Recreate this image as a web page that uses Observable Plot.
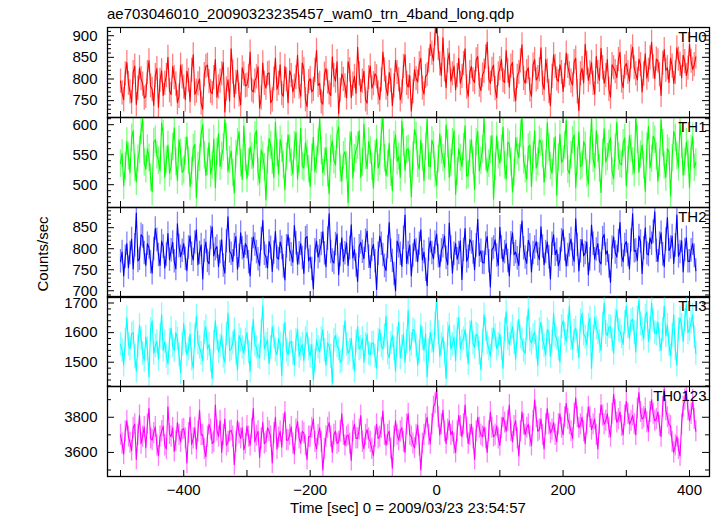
<!DOCTYPE html>
<html><head><meta charset="utf-8">
<script src="https://cdn.jsdelivr.net/npm/d3@7"></script>
<script src="https://cdn.jsdelivr.net/npm/@observablehq/plot@0.6"></script>
<style>
html,body{margin:0;padding:0;background:#fff;}
#wrap{position:relative;width:717px;height:516px;overflow:hidden;font-family:"Liberation Sans",Arial,Helvetica,sans-serif;color:#000;background:#fff;}
#wrap svg{position:absolute;left:0;}
.t{position:absolute;font-size:15px;line-height:15px;white-space:nowrap;}
</style></head><body>
<div id="wrap">
<div class="t" style="left:107px;top:6px;">ae703046010_20090323235457_wam0_trn_4band_long.qdp</div>
<div class="t" style="left:42px;top:254px;transform:translate(-50%,-50%) rotate(-90deg);">Counts/sec</div>
<div class="t" style="left:408px;top:500px;transform:translateX(-50%);">Time [sec] 0 = 2009/03/23 23:54:57</div>
</div>
<script>
// bins: "a" arrays start at tStart, "b" arrays start at tStart + tStep/2; both step tStep (sec)
const tStart = -500, tStep = 5;

const th0a = [
795,752,838,770,815,741,826,788,760,842,776,808,735,819,790,850,764,803,745,832,
781,818,748,856,772,800,730,829,794,766,845,782,812,724,798,870,758,820,740,811,
786,862,770,805,733,837,779,814,752,848,790,766,829,745,808,783,855,760,822,736,
801,776,866,790,742,824,768,851,795,720,812,784,840,757,806,873,771,818,744,830,
789,805,752,862,779,815,738,843,798,770,856,781,726,822,793,848,765,810,880,842,
930,835,895,780,860,812,775,848,806,870,760,829,792,852,773,818,885,790,832,757,
824,796,866,781,838,750,815,879,790,826,760,845,803,872,776,818,738,856,800,833,
771,860,812,786,848,727,824,880,797,838,765,815,871,790,845,758,826,803,862,780,
836,795,874,812,846,770,858,820,885,801,842,762,868,826,848,790,872,834,855,808,
880,822,851];
const th0b = [
768,812,790,746,830,779,801,756,815,784,739,824,797,762,808,773,829,788,760,805,
752,797,820,765,789,744,810,832,771,803,758,795,838,777,749,816,792,763,826,784,
806,774,795,828,756,790,812,745,800,776,833,760,798,819,770,804,781,837,752,794,
770,820,785,747,811,793,762,808,840,774,799,756,821,788,767,812,795,752,803,779,
812,768,798,821,762,796,784,815,752,829,790,808,770,801,835,779,806,842,860,905,
870,808,821,842,795,830,808,790,836,781,815,798,844,786,809,851,800,822,778,812,
845,792,818,830,774,806,842,801,817,775,832,798,821,790,845,771,806,829,794,815,
808,829,795,840,770,812,791,836,814,790,852,797,826,808,776,833,817,845,795,828,
815,851,826,798,833,812,802,849,828,846,810,836,820,792,830,815,846,803,840,825,
841,833];

const th1a = [
535,498,572,520,590,505,558,610,526,545,488,575,540,603,512,566,530,595,507,553,
524,580,497,561,478,545,600,515,570,532,495,585,548,608,522,556,486,571,536,598,
510,563,529,590,503,548,475,577,540,604,518,560,492,583,537,566,509,594,528,551,
497,579,541,610,520,562,485,573,533,597,506,555,470,588,544,565,512,601,527,557,
494,576,538,612,515,569,490,583,547,606,524,560,480,592,535,574,507,609,530,566,
499,585,544,600,512,571,484,560,530,598,517,575,492,589,540,610,521,558,476,581,
536,596,509,567,488,578,545,612,526,562,497,590,538,571,504,603,531,555,483,584,
542,607,518,574,495,588,533,565,501,611,529,560,487,593,546,578,510,604,535,569,
498,582,539,613,521,566,489,597,543,575,506,608,532,560,481,589,548,604,516,571,
495,580,537];
const th1b = [
552,531,547,578,528,543,590,537,560,512,571,549,523,584,541,519,563,538,575,521,
556,540,523,567,531,585,549,538,518,576,555,530,562,579,541,520,551,588,509,544,
537,548,582,521,558,529,540,566,512,553,575,533,547,560,518,587,542,531,570,526,
545,522,570,556,538,519,560,541,584,527,549,532,565,511,558,590,537,548,572,530,
551,528,586,544,535,520,566,539,512,570,558,534,548,581,526,546,563,531,574,518,
543,557,529,568,536,590,522,545,563,514,552,540,571,523,559,546,535,582,530,549,
560,532,571,538,520,556,585,541,509,566,549,528,575,551,534,562,519,580,545,537,
566,525,549,583,540,530,572,519,557,543,590,527,553,538,568,522,561,547,533,578,
541,560,519,575,550,532,563,528,581,547,536,569,512,555,544,578,529,566,538,551,
560,528];

const th2a = [
770,735,812,790,752,885,776,829,760,803,742,848,785,818,754,836,796,770,859,781,
812,748,830,773,845,790,728,816,764,852,799,757,821,742,876,788,809,751,838,779,
804,735,828,792,760,867,781,817,746,841,775,802,726,833,786,855,763,812,741,829,
780,705,818,794,840,757,883,772,811,738,826,789,760,857,798,722,815,776,842,755,
810,703,830,785,748,862,771,700,806,758,880,790,735,822,769,845,792,712,818,776,
835,757,806,778,861,742,812,790,727,848,781,815,750,870,795,766,829,709,803,784,
851,770,812,735,838,792,760,866,779,820,745,803,787,852,762,816,728,833,797,774,
845,759,808,786,871,747,822,790,738,856,775,812,764,834,795,720,828,780,862,769,
817,752,883,796,830,741,850,785,812,888,770,838,757,874,803,765,880,792,745,826,
770,812,748];
const th2b = [
792,781,755,823,808,771,833,790,812,768,799,821,760,805,786,774,815,752,806,795,
776,803,788,815,762,809,795,771,826,783,805,792,760,818,794,770,829,783,801,812,
768,798,810,775,823,788,754,802,791,779,816,758,806,797,768,813,789,778,825,771,
752,796,780,811,789,824,792,766,835,785,770,814,802,778,760,806,793,819,781,797,
770,788,812,759,804,795,740,818,788,826,765,809,784,796,812,773,750,798,790,815,
782,796,830,762,803,788,775,819,797,770,822,791,808,784,767,812,770,798,821,760,
803,792,771,813,786,777,829,801,765,808,790,817,774,805,792,780,812,786,759,820,
798,785,823,770,809,794,783,816,775,812,798,770,825,787,758,803,791,818,784,809,
785,820,794,772,817,801,789,826,840,795,812,787,822,796,830,808,782,819,797,770,
796,783];

const th3a = [
1560,1490,1650,1545,1600,1470,1625,1530,1585,1450,1640,1555,1510,1660,1570,1495,1615,1540,1580,1465,
1630,1525,1595,1480,1655,1550,1505,1620,1560,1445,1640,1535,1590,1500,1665,1545,1610,1475,1575,1530,
1600,1470,1645,1550,1515,1690,1560,1495,1620,1540,1580,1455,1635,1525,1570,1490,1610,1545,1505,1600,
1520,1440,1575,1535,1610,1490,1555,1430,1590,1545,1505,1640,1530,1580,1470,1620,1550,1500,1595,1525,
1565,1480,1610,1545,1655,1515,1590,1470,1635,1550,1500,1675,1560,1605,1490,1625,1540,1450,1600,1535,
1720,1520,1585,1445,1625,1560,1505,1650,1570,1610,1495,1640,1550,1590,1475,1660,1565,1520,1615,1545,
1595,1480,1670,1560,1620,1510,1645,1575,1530,1680,1565,1600,1490,1635,1555,1610,1520,1665,1580,1500,
1640,1570,1690,1545,1615,1515,1665,1585,1625,1480,1650,1600,1540,1700,1590,1620,1530,1675,1605,1560,
1690,1580,1645,1535,1710,1610,1655,1570,1700,1600,1635,1540,1690,1625,1520,1660,1490,1650,1570,1695,
1610,1660,1530];
const th3b = [
1540,1575,1560,1595,1520,1555,1580,1505,1545,1610,1530,1570,1590,1540,1520,1575,1555,1600,1525,1560,
1570,1545,1510,1590,1565,1530,1600,1545,1505,1570,1580,1555,1520,1595,1540,1565,1530,1590,1550,1575,
1535,1580,1560,1520,1605,1545,1575,1550,1585,1525,1560,1590,1540,1565,1530,1575,1520,1560,1580,1545,
1560,1505,1550,1580,1540,1565,1520,1575,1555,1500,1585,1560,1540,1515,1570,1545,1580,1560,1530,1565,
1520,1575,1555,1590,1530,1565,1545,1580,1515,1595,1570,1540,1610,1555,1535,1580,1595,1540,1570,1630,
1600,1560,1530,1595,1545,1585,1610,1545,1580,1555,1600,1565,1595,1530,1570,1610,1545,1575,1590,1560,
1545,1610,1580,1595,1565,1600,1585,1540,1615,1575,1590,1550,1610,1580,1525,1600,1570,1590,1545,1620,
1595,1620,1580,1605,1570,1640,1595,1560,1650,1585,1615,1570,1630,1600,1620,1575,1640,1610,1585,1635,
1620,1640,1600,1650,1630,1580,1670,1615,1640,1595,1575,1610,1590,1560,1590,1545,1610,1625,1640,1600,
1635,1585];

const th0123a = [
3700,3590,3780,3655,3740,3560,3810,3690,3625,3850,3670,3745,3580,3720,3640,3860,3690,3605,3770,3660,
3735,3540,3800,3680,3620,3840,3700,3575,3760,3650,3870,3690,3600,3790,3660,3725,3530,3780,3680,3615,
3750,3640,3850,3695,3570,3770,3660,3720,3540,3800,3685,3630,3830,3670,3745,3590,3775,3650,3710,3560,
3690,3790,3620,3740,3500,3690,3770,3600,3720,3660,3820,3640,3700,3555,3760,3680,3810,3620,3730,3660,
3580,3760,3690,3835,3640,3720,3510,3780,3670,3740,3600,3820,3690,3625,3755,3500,3700,3800,3650,3860,
3960,3700,3840,3650,3780,3720,3600,3810,3690,3870,3650,3760,3560,3800,3700,3745,3600,3830,3690,3750,
3640,3800,3720,3870,3660,3780,3580,3830,3700,3760,3640,3900,3720,3790,3620,3850,3710,3770,3660,3820,
3700,3880,3760,3680,3910,3740,3800,3650,3860,3730,3790,3620,3870,3760,3820,3690,3930,3770,3830,3700,
3890,3760,3810,3700,3940,3790,3850,3720,3900,3780,3830,3690,3960,3800,3750,3600,3690,3580,3860,3950,
3780,3900,3720];
const th0123b = [
3650,3720,3690,3610,3760,3700,3650,3745,3760,3680,3710,3640,3690,3750,3620,3705,3740,3665,3700,3730,
3680,3710,3645,3740,3720,3700,3620,3690,3730,3660,3725,3780,3700,3640,3720,3690,3660,3710,3740,3650,
3690,3735,3660,3720,3680,3650,3740,3690,3710,3620,3720,3760,3670,3700,3650,3730,3680,3720,3640,3690,
3740,3660,3700,3660,3620,3740,3690,3700,3650,3720,3700,3690,3650,3720,3680,3730,3660,3700,3680,3620,
3690,3680,3740,3700,3700,3620,3690,3700,3720,3660,3760,3700,3650,3700,3640,3650,3760,3700,3760,3880,
3800,3760,3720,3730,3700,3650,3720,3750,3760,3740,3700,3680,3720,3740,3690,3680,3720,3740,3700,3680,
3740,3770,3780,3720,3750,3680,3720,3760,3740,3690,3780,3800,3730,3700,3760,3760,3730,3700,3760,3740,
3800,3790,3720,3820,3800,3760,3720,3760,3800,3760,3700,3760,3810,3780,3740,3820,3840,3790,3750,3810,
3820,3780,3760,3850,3830,3800,3770,3830,3820,3790,3750,3860,3840,3760,3660,3640,3620,3760,3900,3840,
3820,3790];

// typical half-length of the error bars
const errHalf = [28, 23, 28, 40, 60];

const bandNames = ["TH0", "TH1", "TH2", "TH3", "TH0123"];
const bandColors = ["#ff0000", "#00ff00", "#0000ff", "#00ffff", "#ff00ff"];
const bandA = [th0a, th1a, th2a, th3a, th0123a];
const bandB = [th0b, th1b, th2b, th3b, th0123b];
const yDomains = [[711, 919], [462, 612], [684, 898], [1418, 1722], [3463, 3975]];
const yTickLabels = [[750, 800, 850, 900], [500, 550, 600], [700, 750, 800, 850], [1500, 1600, 1700], [3600, 3800]];
const yMinorSteps = [10, 10, 10, 20, 100];
const xTickLabels = [-400, -200, 0, 200, 400];
const xTicksAll = [-500, -400, -300, -200, -100, 0, 100, 200, 300, 400];
const xDomain = [-520.6, 431.6];

const panelTops = [27, 117, 207, 296, 386];
const W = 717, ML = 107, MR = 8, PH = 90;
const plotW = W - ML - MR;
const font = '"Liberation Sans", Arial, Helvetica, sans-serif';
const wrap = document.getElementById("wrap");

bandA.forEach((valsA, k) => {
  const last = k === bandA.length - 1;
  const e = errHalf[k];
  const data = valsA.map((v, i) => ({t: tStart + i * tStep, v}))
    .concat(bandB[k].map((v, i) => ({t: tStart + tStep / 2 + i * tStep, v})))
    .sort((p, q) => p.t - q.t);
  const [lo, hi] = yDomains[k];
  const step = yMinorSteps[k];
  const major = yTickLabels[k];
  const minor = d3.range(Math.ceil(lo / step) * step, hi + 1e-9, step).filter(v => !major.includes(v));
  const mb = last ? 40 : 0;
  const svg = Plot.plot({
    width: W, height: PH + mb,
    marginLeft: ML, marginRight: MR, marginTop: 0, marginBottom: mb,
    x: {domain: xDomain, axis: null},
    y: {domain: yDomains[k], axis: null},
    style: {fontFamily: font, fontSize: "15px", overflow: "visible", background: "transparent", color: "#000"},
    marks: [
      Plot.ruleX(data, {x: "t", y1: d => d.v - e, y2: d => d.v + e, stroke: bandColors[k], strokeOpacity: 0.5, strokeWidth: 1.3, clip: true}),
      Plot.line(data, {x: "t", y: "v", stroke: bandColors[k], strokeWidth: 1.1, clip: true}),
      Plot.tickY(major, {y: d => d, insetRight: plotW - 7, stroke: "#000", strokeWidth: 1}),
      Plot.tickY(major, {y: d => d, insetLeft: plotW - 7, stroke: "#000", strokeWidth: 1}),
      Plot.tickY(minor, {y: d => d, insetRight: plotW - 4, stroke: "#000", strokeWidth: 1}),
      Plot.tickY(minor, {y: d => d, insetLeft: plotW - 4, stroke: "#000", strokeWidth: 1}),
      Plot.tickX(xTicksAll, {x: d => d, insetBottom: PH - 6, stroke: "#000", strokeWidth: 1}),
      Plot.tickX(xTicksAll, {x: d => d, insetTop: PH - 6, stroke: "#000", strokeWidth: 1}),
      Plot.frame({stroke: "#000", strokeWidth: 1.3}),
      Plot.text([bandNames[k]], {text: d => d, frameAnchor: "top-right", textAnchor: "end", lineAnchor: "top", dx: -3, dy: 4, fill: "#000", fontSize: 15}),
      Plot.text(major, {y: d => d, text: d => String(d), frameAnchor: "left", textAnchor: "end", dx: -10, fill: "#000", fontSize: 15}),
      ...(last ? [Plot.text(xTickLabels, {x: d => d, text: d => d < 0 ? "\u2212" + (-d) : String(d), frameAnchor: "bottom", lineAnchor: "top", dy: 8, fill: "#000", fontSize: 15})] : [])
    ]
  });
  svg.style.top = panelTops[k] + "px";
  wrap.appendChild(svg);
});
</script>
</body></html>
